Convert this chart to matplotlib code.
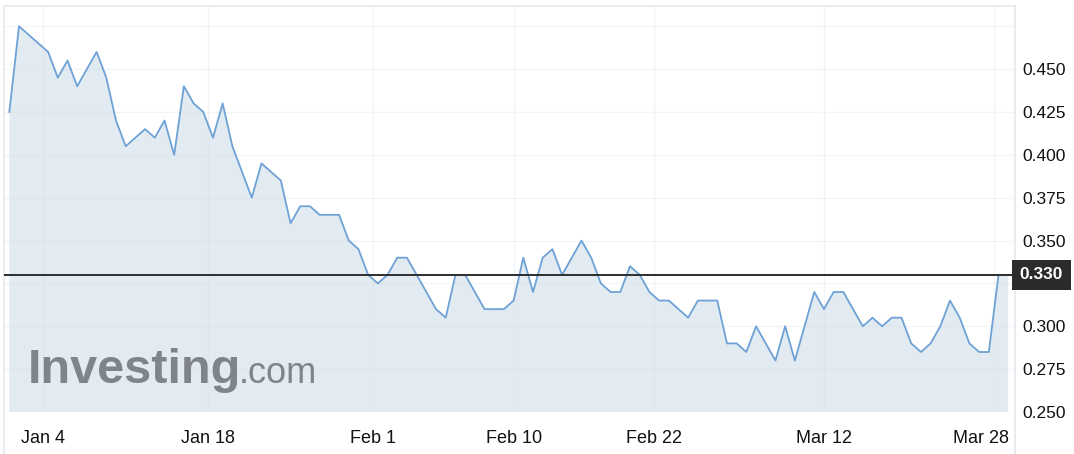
import matplotlib
matplotlib.use("Agg")
import matplotlib.pyplot as plt
from matplotlib.lines import Line2D
import matplotlib.transforms as mtransforms

# daily closing prices, one point per session
prices = [0.425, 0.475, 0.470, 0.465, 0.460, 0.445, 0.455, 0.440, 0.450, 0.460,
          0.445, 0.420, 0.405, 0.410, 0.415, 0.410, 0.420, 0.400, 0.440, 0.430,
          0.425, 0.410, 0.430, 0.405, 0.390, 0.375, 0.395, 0.390, 0.385, 0.360,
          0.370, 0.370, 0.365, 0.365, 0.365, 0.350, 0.345, 0.330, 0.325, 0.330,
          0.340, 0.340, 0.330, 0.320, 0.310, 0.305, 0.330, 0.330, 0.320, 0.310,
          0.310, 0.310, 0.315, 0.340, 0.320, 0.340, 0.345, 0.330, 0.340, 0.350,
          0.340, 0.325, 0.320, 0.320, 0.335, 0.330, 0.320, 0.315, 0.315, 0.310,
          0.305, 0.315, 0.315, 0.315, 0.290, 0.290, 0.285, 0.300, 0.290, 0.280,
          0.300, 0.280, 0.300, 0.320, 0.310, 0.320, 0.320, 0.310, 0.300, 0.305,
          0.300, 0.305, 0.305, 0.290, 0.285, 0.290, 0.300, 0.315, 0.305, 0.290,
          0.285, 0.285, 0.330, 0.330]

date_pos = [3.5, 20.5, 37.5, 52, 66.5, 84, 101.5]
date_labels = ["Jan 4", "Jan 18", "Feb 1", "Feb 10", "Feb 22", "Mar 12", "Mar 28"]
price_ticks = [0.250, 0.275, 0.300, 0.325, 0.350, 0.375, 0.400, 0.425, 0.450, 0.475]
price_labels = ["0.250", "0.275", "0.300", "", "0.350", "0.375", "0.400", "0.425", "0.450", ""]
last_price = prices[-1]

plt.rcParams["font.family"] = ["Liberation Sans", "DejaVu Sans"]

W, H = 1074, 454
fig = plt.figure(figsize=(W / 100, H / 100), dpi=100)
ax = fig.add_axes([3.5 / W, 1 - 412 / H, (1015 - 3.5) / W, (412 - 6) / H])

x = list(range(len(prices)))
ax.fill_between(x, prices, 0.2, color="#e3ebf2", lw=0, zorder=1)
ax.plot(x, prices, color="#6ea2d6", lw=1.3, zorder=3)
ax.axhline(last_price, color="#2d2d2d", lw=1.4, zorder=4)

ax.set_xlim(-0.6, 103.7)
ax.set_ylim(0.2505, 0.4868)

# grid
ax.set_axisbelow(False)
ax.grid(True, color="#d5dde6", alpha=0.3, lw=1)

ax.set_xticks(date_pos, date_labels)
ax.set_yticks(price_ticks, price_labels)
ax.yaxis.tick_right()
ax.tick_params(axis="x", length=0, pad=13, labelsize=13, colors="#111111")
ax.tick_params(axis="y", length=0, pad=5.5, labelsize=12.5, colors="#111111")

# last label sits inside the frame
lbl = ax.get_xticklabels()[-1]
lbl.set_transform(lbl.get_transform() + mtransforms.ScaledTranslation(-13 / 100, 0, fig.dpi_scale_trans))

for s in ["left", "right", "top"]:
    ax.spines[s].set_color("#e6eaef")
    ax.spines[s].set_linewidth(1.3)
ax.spines["bottom"].set_visible(False)

# frame continues down past the labels
for xf in [3.5 / W, 1015 / W]:
    fig.add_artist(Line2D([xf, xf], [0, 1 - 412 / H], transform=fig.transFigure,
                          color="#e6eaef", lw=1.3))

# current price tag
ax.text(1.0048, last_price, "%.3f" % last_price, transform=ax.get_yaxis_transform(),
        va="center", ha="left", fontsize=12.5, fontweight="bold", color="white",
        bbox=dict(boxstyle="square,pad=0.45", fc="#2b2b2b", ec="none"), zorder=5,
        clip_on=False)

# watermark
fig.text(28 / W, 1 - 383 / H, "Investing", fontsize=35, fontweight="bold",
         color="#7f848a", va="baseline", ha="left")
fig.text(239 / W, 1 - 383 / H, ".com", fontsize=26, color="#7f848a",
         va="baseline", ha="left")

fig.savefig("out.png", dpi=100)
